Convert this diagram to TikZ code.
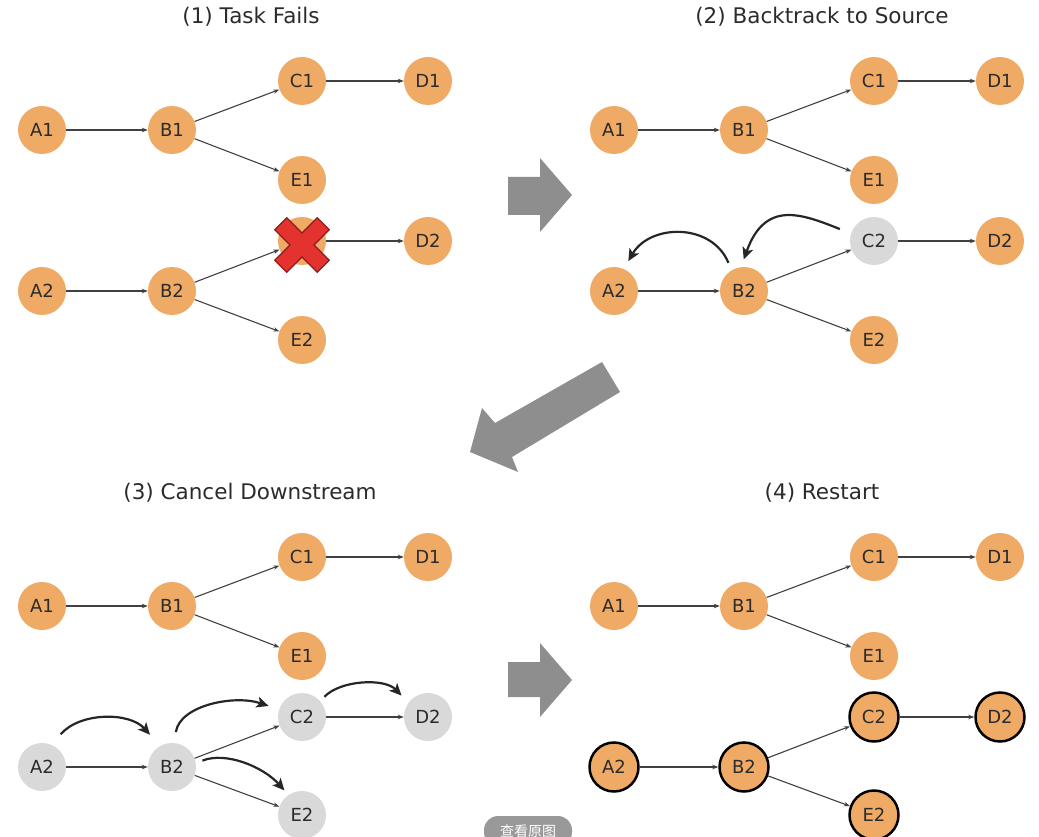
\documentclass[tikz,border=0pt]{standalone}
\usepackage{fontspec}
\setmainfont{DejaVu Sans}
\newfontfamily\cjkfont{Noto Sans CJK SC}
\usepackage{tikz}
\usetikzlibrary{arrows.meta}

\definecolor{taskorange}{HTML}{EFAA66}
\definecolor{taskgray}{HTML}{D9D9D9}
\definecolor{bigarrowgray}{HTML}{8E8E8E}
\definecolor{crossred}{HTML}{E4332E}
\definecolor{crossdark}{HTML}{8A1C1C}
\definecolor{textdark}{HTML}{2B2B2B}

\begin{document}
\begin{tikzpicture}[x=1pt,y=-1pt,
  task/.style={circle,fill=taskorange,minimum size=48pt,inner sep=0pt,text=textdark,font=\fontsize{18}{21}\selectfont},
  idle/.style={task,fill=taskgray},
  rerun/.style={task,draw=black,line width=2.5pt,minimum size=49pt},
  flow/.style={-{Stealth[length=6pt,width=4.5pt]},line width=1.1pt,color=black!75},
  trace/.style={-{Stealth[length=12pt,width=11pt,inset=3pt]},line width=2.2pt,color=black!85},
  title/.style={text=textdark,font=\fontsize{21.5}{25}\selectfont},
  bigarrow/.style={fill=bigarrowgray}]

\useasboundingbox (0,0) rectangle (1039,837);

% titles
\node[title] (t1) at (251,17) {(1) Task Fails};
\node[title] (t2) at (822,17) {(2) Backtrack to Source};
\node[title] (t3) at (250,493) {(3) Cancel Downstream};
\node[title] (t4) at (822,493) {(4) Restart};

% (1) task fails
\node[task] (p1a1) at (42,130) {A1};
\node[task] (p1b1) at (172,130) {B1};
\node[task] (p1c1) at (302,81) {C1};
\node[task] (p1d1) at (428,81) {D1};
\node[task] (p1e1) at (302,180) {E1};
\node[task] (p1c2) at (302,241) {C2};
\node[task] (p1d2) at (428,241) {D2};
\node[task] (p1a2) at (42,291) {A2};
\node[task] (p1b2) at (172,291) {B2};
\node[task] (p1e2) at (302,340) {E2};
\path[flow] (p1a1) edge (p1b1) (p1b1) edge (p1c1) (p1b1) edge (p1e1) (p1c1) edge (p1d1)
            (p1a2) edge (p1b2) (p1b2) edge (p1c2) (p1b2) edge (p1e2) (p1c2) edge (p1d2);
\begin{scope}[shift={(302,245)},rotate=45]
\draw[fill=crossred,draw=crossdark,line width=1.2pt] (8.5,8.5) -- (8.5,30) -- (-8.5,30) -- (-8.5,8.5) -- (-30,8.5) -- (-30,-8.5)
  -- (-8.5,-8.5) -- (-8.5,-30) -- (8.5,-30) -- (8.5,-8.5) -- (30,-8.5) -- (30,8.5) -- cycle;
\end{scope}

% (2) backtrack to source
\node[task] (p2a1) at (614,130) {A1};
\node[task] (p2b1) at (744,130) {B1};
\node[task] (p2c1) at (874,81) {C1};
\node[task] (p2d1) at (1000,81) {D1};
\node[task] (p2e1) at (874,180) {E1};
\node[idle] (p2c2) at (874,241) {C2};
\node[task] (p2d2) at (1000,241) {D2};
\node[task] (p2a2) at (614,291) {A2};
\node[task] (p2b2) at (744,291) {B2};
\node[task] (p2e2) at (874,340) {E2};
\path[flow] (p2a1) edge (p2b1) (p2b1) edge (p2c1) (p2b1) edge (p2e1) (p2c1) edge (p2d1)
            (p2a2) edge (p2b2) (p2b2) edge (p2c2) (p2b2) edge (p2e2) (p2c2) edge (p2d2);
\draw[trace,shorten <=12pt,shorten >=8pt] (p2c2.162) .. controls +(-50,-20) and +(24,-67) .. (p2b2.97);
\draw[trace,shorten <=8pt,shorten >=9pt] (p2b2.121) .. controls +(-20,-48) and +(26,-45) .. (p2a2.66);

% (3) cancel downstream
\node[task] (p3a1) at (42,606) {A1};
\node[task] (p3b1) at (172,606) {B1};
\node[task] (p3c1) at (302,557) {C1};
\node[task] (p3d1) at (428,557) {D1};
\node[task] (p3e1) at (302,656) {E1};
\node[idle] (p3c2) at (302,717) {C2};
\node[idle] (p3d2) at (428,717) {D2};
\node[idle] (p3a2) at (42,767) {A2};
\node[idle] (p3b2) at (172,767) {B2};
\node[idle] (p3e2) at (302,815) {E2};
\path[flow] (p3a1) edge (p3b1) (p3b1) edge (p3c1) (p3b1) edge (p3e1) (p3c1) edge (p3d1)
            (p3a2) edge (p3b2) (p3b2) edge (p3c2) (p3b2) edge (p3e2) (p3c2) edge (p3d2);
\draw[trace,shorten <=14pt,shorten >=15pt] (p3a2.67) .. controls +(29,-33) and +(-30,-34) .. (p3b2.120);
\draw[trace,shorten <=11pt,shorten >=11pt] (p3b2.85) .. controls +(6,-38) and +(-44,-15) .. (p3c2.162);
\draw[trace,shorten <=6pt,shorten >=10pt] (p3c2.41) .. controls +(20,-21) and +(-24,-25) .. (p3d2.144);
\draw[trace,shorten <=7pt,shorten >=6pt] (p3b2.9) .. controls +(30,-12) and +(-25,-28) .. (p3e2.124);

% (4) restart
\node[task] (p4a1) at (614,606) {A1};
\node[task] (p4b1) at (744,606) {B1};
\node[task] (p4c1) at (874,557) {C1};
\node[task] (p4d1) at (1000,557) {D1};
\node[task] (p4e1) at (874,656) {E1};
\node[rerun] (p4c2) at (874,717) {C2};
\node[rerun] (p4d2) at (1000,717) {D2};
\node[rerun] (p4a2) at (614,767) {A2};
\node[rerun] (p4b2) at (744,767) {B2};
\node[rerun] (p4e2) at (874,815) {E2};
\path[flow] (p4a1) edge (p4b1) (p4b1) edge (p4c1) (p4b1) edge (p4e1) (p4c1) edge (p4d1)
            (p4a2) edge (p4b2) (p4b2) edge (p4c2) (p4b2) edge (p4e2) (p4c2) edge (p4d2);

% big arrows between the steps
\fill[bigarrow] (508,177) -- (540,177) -- (540,158) -- (572,195) -- (540,232) -- (540,215) -- (508,215) -- cycle;
\fill[bigarrow] (602,362) -- (620,392) -- (512,457) -- (518,472) -- (470,452) -- (482,408) -- (495,423) -- cycle;
\fill[bigarrow] (508,662) -- (540,662) -- (540,643) -- (572,680) -- (540,717) -- (540,697) -- (508,697) -- cycle;

% button
\node[fill=black!40,text=white,rounded corners=14pt,minimum width=88pt,minimum height=30pt,inner sep=0pt,
      font=\cjkfont\fontsize{14}{16}\selectfont] (viewbtn) at (528,831) {查看原图};

\end{tikzpicture}
\end{document}
